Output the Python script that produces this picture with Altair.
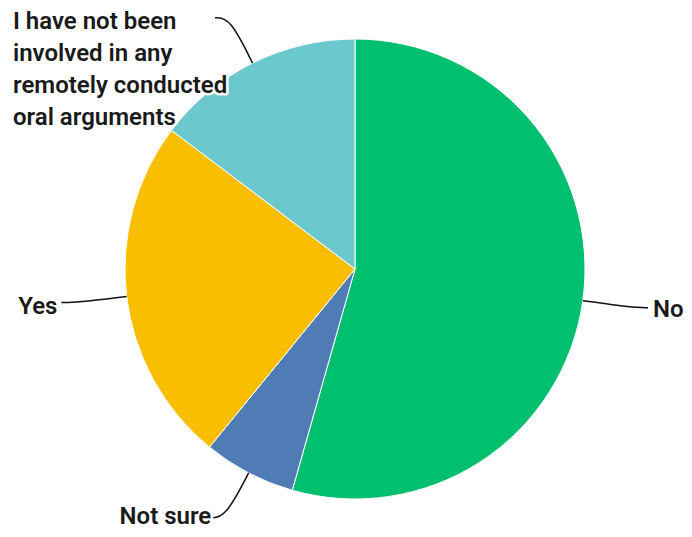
import altair as alt
import pandas as pd

labels = ["No", "Not sure", "Yes",
          "I have not been\ninvolved in any\nremotely conducted\noral arguments"]
values = [54.4, 6.5, 24.4, 14.7]
colors = ["#00BF6F", "#507CB6", "#F9BE00", "#6BC8CD"]
order = [0, 1, 2, 3]

df = pd.DataFrame({"label": labels, "value": values, "ord": order})

W, H = 676, 521
CX, CY = 347, 261
R = 230
LEAD = 1.22
HOOK = 15 / R

xscale = alt.Scale(domain=[-CX / R, (W - CX) / R], nice=False, zero=False)
yscale = alt.Scale(domain=[-(H - CY) / R, CY / R], nice=False, zero=False)

base = alt.Chart(df)

pie = base.mark_arc(outerRadius=R, stroke="white", strokeWidth=1).encode(
    theta=alt.Theta("value:Q", stack=True),
    order=alt.Order("ord:Q"),
    color=alt.Color("label:N", scale=alt.Scale(domain=labels, range=colors), legend=None),
    x=alt.value(CX),
    y=alt.value(CY),
)

geo = (
    base.transform_window(cum="sum(value)", sort=[alt.SortField("ord")], frame=[None, 0])
    .transform_joinaggregate(total="sum(value)")
    .transform_calculate(mid="(datum.cum - datum.value/2) / datum.total * 2 * PI")
    .transform_calculate(sx="sin(datum.mid) >= 0 ? 1 : -1")
)

leaders = (
    geo.transform_calculate(steps="[0, 1, 2]")
    .transform_flatten(["steps"])
    .transform_calculate(r=f"datum.steps == 0 ? 1 : {LEAD}")
    .transform_calculate(
        lx=f"datum.r * sin(datum.mid) + (datum.steps == 2 ? datum.sx * {HOOK} : 0)",
        ly="datum.r * cos(datum.mid)",
    )
    .mark_line(interpolate="basis", color="#111111", strokeWidth=1.5)
    .encode(
        x=alt.X("lx:Q", scale=xscale, axis=None),
        y=alt.Y("ly:Q", scale=yscale, axis=None),
        detail="label:N",
        order="steps:Q",
    )
)

tgeo = geo.transform_calculate(
    tx=f"{LEAD} * sin(datum.mid) + datum.sx * {HOOK}",
    ty=f"{LEAD} * cos(datum.mid)",
)

font = dict(font="Roboto", fontSize=24, fontWeight=600, lineBreak="\n", lineHeight=32)


def text_layer(flt, align, dx, dy, halo):
    extra = dict(stroke="white", strokeWidth=5, strokeJoin="round", fill="white") if halo else dict(fill="#1a1a1a")
    return (
        tgeo.transform_filter(flt)
        .mark_text(align=align, baseline="middle", dx=dx, dy=dy, **font, **extra)
        .encode(
            x=alt.X("tx:Q", scale=xscale, axis=None),
            y=alt.Y("ty:Q", scale=yscale, axis=None),
            text="label:N",
        )
    )


specs = [
    ("datum.ord == 0", "left", 5, 2),
    ("datum.ord == 1", "right", 1, -1),
    ("datum.ord == 2", "right", -4, 5),
    ("datum.ord == 3", "left", -202, 4),
]

layers = [pie, leaders]
for halo in (True, False):
    for flt, al, dx, dy in specs:
        layers.append(text_layer(flt, al, dx, dy, halo))

chart = (
    alt.layer(*layers)
    .properties(width=W, height=H, padding=0, autosize=alt.AutoSizeParams(type="none"))
    .configure_view(stroke=None)
)

chart.save("out.html", embed_options={"renderer": "svg", "actions": False})
